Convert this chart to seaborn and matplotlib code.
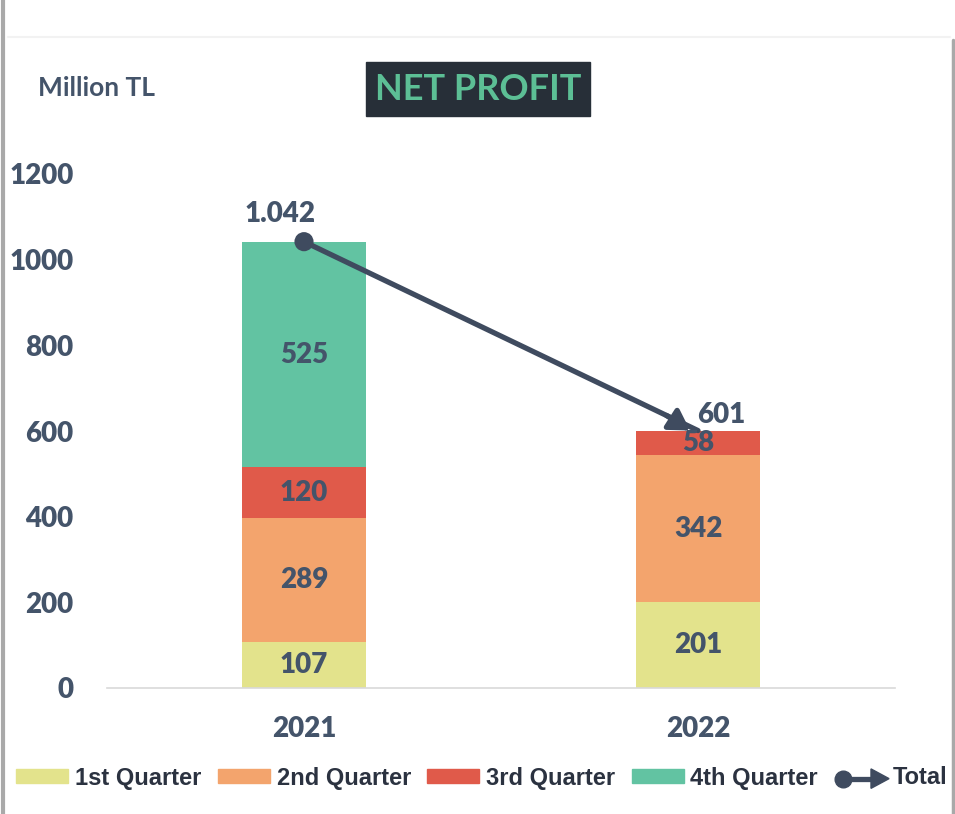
import matplotlib
matplotlib.use("Agg")
import matplotlib.pyplot as plt
import matplotlib.patches as mpatches
from matplotlib.lines import Line2D
from matplotlib.legend_handler import HandlerBase
import numpy as np
import pandas as pd
import seaborn as sns

# ---- data ----
years = ["2021", "2022"]
q1 = [107, 201]
q2 = [289, 342]
q3 = [120, 58]
q4 = [525, 0]
totals = [1042, 601]
total_labels = ["1.042", "601"]
quarter_names = ["1st Quarter", "2nd Quarter", "3rd Quarter", "4th Quarter"]
yticks = [0, 200, 400, 600, 800, 1000, 1200]

colors = ["#E3E38C", "#F3A46D", "#E05A4A", "#62C3A2"]
dark = "#44546A"
line_col = "#3F4B5F"
WT = "heavy"

sns.set_theme(style="white")
plt.rcParams["font.family"] = ["Lato", "DejaVu Sans"]

W, H = 955, 814
fig = plt.figure(figsize=(W / 100, H / 100), dpi=100)
ax = fig.add_axes([107 / W, 1 - 688 / H, (895 - 107) / W, (688 - 174) / H])

series = [q1, q2, q3, q4]
bottom = np.zeros(len(years))
for name, vals, col in zip(quarter_names, series, colors):
    vals = np.array(vals, dtype=float)
    sns.barplot(x=years, y=vals, bottom=bottom, color=col, width=0.314,
                ax=ax, saturation=1, linewidth=0)
    for i, v in enumerate(vals):
        if v > 0:
            ax.text(i, bottom[i] + v / 2, f"{int(v)}", ha="center", va="center",
                    fontsize=20, fontweight=WT, color=dark)
    bottom = bottom + vals

# total line
xpos = np.arange(len(years))
sns.lineplot(x=xpos, y=totals, ax=ax, color=line_col, linewidth=3.8, legend=False)
sns.scatterplot(x=xpos[:1], y=totals[:1], ax=ax, color=line_col, s=190,
                edgecolor="none", zorder=5, legend=False)
frac = 0.08
ax.annotate("", xy=(xpos[1] - 0.02, totals[1]),
            xytext=(xpos[1] - frac, totals[1] + frac * (totals[0] - totals[1])),
            arrowprops=dict(arrowstyle="-|>,head_length=1.0,head_width=0.6",
                            color=line_col, lw=3.8, shrinkA=0, shrinkB=0),
            zorder=6)
ax.annotate(total_labels[0], xy=(xpos[0], totals[0]), xytext=(-17, 20),
            textcoords="offset points", ha="center", va="center",
            fontsize=20, fontweight=WT, color=dark)
ax.annotate(total_labels[1], xy=(xpos[1], totals[1]), xytext=(17, 11),
            textcoords="offset points", ha="center", va="center",
            fontsize=20, fontweight=WT, color=dark)

leg0 = ax.get_legend()
if leg0 is not None:
    leg0.remove()

ax.set_xlim(-0.5, 1.5)
ax.set_ylim(0, 1200)
ax.set_yticks(yticks)
ax.set_yticklabels([str(t) for t in yticks])
ax.set_xlabel("")
ax.set_ylabel("")
ax.tick_params(axis="both", length=0, labelsize=20, colors=dark)
ax.tick_params(axis="y", pad=24)
ax.tick_params(axis="x", pad=20)
for lab in ax.get_xticklabels() + ax.get_yticklabels():
    lab.set_fontweight(WT)
for s in ["top", "right", "left"]:
    ax.spines[s].set_visible(False)
ax.spines["bottom"].set_color("#D9D9D9")
ax.spines["bottom"].set_linewidth(1.2)
ax.patch.set_alpha(0)

# title box
fig.patches.append(mpatches.Rectangle((366 / W, 1 - 116 / H), 224 / W, 54 / H,
                                      transform=fig.transFigure, color="#272F38",
                                      zorder=1))
fig.text(478 / W, 1 - 89 / H, "NET PROFIT", ha="center", va="center",
         fontsize=26, fontweight="bold", color="#5CBF95", zorder=2)
fig.text(38 / W, 1 - 88 / H, "Million TL", ha="left", va="center",
         fontsize=19, fontweight="bold", color=dark)

# frame
fig.add_artist(Line2D([3 / W, 3 / W], [0, 1], transform=fig.transFigure,
                      color="#A9A9A9", lw=3))
fig.add_artist(Line2D([953 / W, 953 / W], [0, 1 - 40 / H], transform=fig.transFigure,
                      color="#A9A9A9", lw=2.5))
fig.add_artist(Line2D([8 / W, 950 / W], [1 - 37 / H, 1 - 37 / H], transform=fig.transFigure,
                      color="#F2F2F2", lw=1.5))

# legend
class ArrowHandler(HandlerBase):
    def create_artists(self, legend, orig, xd, yd, width, height, fontsize, trans):
        y = yd + height / 2
        ln = Line2D([xd + 6, xd + width - 8], [y, y], color=line_col, lw=3.8,
                    transform=trans)
        dot = Line2D([xd + 6], [y], marker="o", markersize=12, color=line_col,
                     transform=trans)
        head = mpatches.Polygon([[xd + width - 11, y + 7], [xd + width + 2, y],
                                 [xd + width - 11, y - 7]], closed=True,
                                color=line_col, transform=trans)
        return [ln, dot, head]

handles = [mpatches.Patch(color=c) for c in colors]
total_handle = Line2D([], [], color=line_col)
handles.append(total_handle)
labels = quarter_names + ["Total"]
leg = fig.legend(handles, labels, loc="center", bbox_to_anchor=(482 / W, 1 - 778 / H),
                 ncol=5, frameon=False, handlelength=2.2, handleheight=0.55,
                 handletextpad=0.28, columnspacing=0.7,
                 handler_map={total_handle: ArrowHandler()},
                 prop=dict(family=["Liberation Sans", "DejaVu Sans"], weight="bold", size=17))
for t in leg.get_texts():
    t.set_color("#2B3240")

fig.savefig("out.png", dpi=100, facecolor="white")
